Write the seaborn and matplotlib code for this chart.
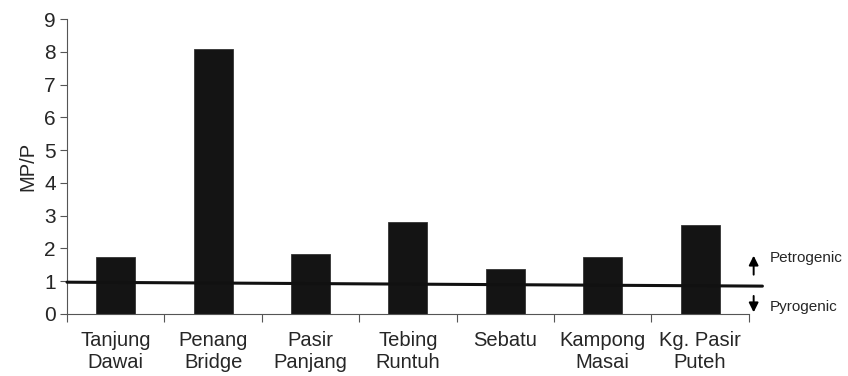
import matplotlib.pyplot as plt
import numpy as np
import pandas as pd
import seaborn as sns

sites = ["Tanjung\nDawai", "Penang\nBridge", "Pasir\nPanjang", "Tebing\nRuntuh",
         "Sebatu", "Kampong\nMasai", "Kg. Pasir\nPuteh"]
mp_p = [1.73, 8.1, 1.83, 2.8, 1.37, 1.73, 2.71]

# reference line (roughly at MP/P = 1, slightly tilted in the original)
ref_x = [-0.5, 6.64]
ref_y = [0.97, 0.85]
yticks = list(range(0, 10))

sns.set_style("ticks")
plt.rcParams["font.family"] = ["Liberation Sans", "DejaVu Sans"]

df = pd.DataFrame({"site": sites, "MP/P": mp_p})

fig = plt.figure(figsize=(8.48, 3.76), dpi=100)
ax = fig.add_axes([0.079, 0.165, 0.804, 0.784])

sns.barplot(data=df, x="site", y="MP/P", color="#141414", width=0.4,
            edgecolor="#333333", linewidth=0.6, saturation=1, ax=ax)

ax.plot(ref_x, ref_y, color="#111111", lw=2.2, clip_on=False, zorder=5)

ax.set_xlim(-0.5, len(sites) - 0.5)
ax.set_ylim(0, 9)
ax.set_yticks(yticks)
ax.set_xlabel("")
ax.set_ylabel("MP/P", fontsize=14.5, labelpad=5)

ax.tick_params(axis="y", labelsize=15, length=5, width=0.8, color="#555555", pad=3)
ax.tick_params(axis="x", which="major", labelsize=14.5, length=0, pad=12)
ax.set_xticks(np.arange(-0.5, len(sites)), minor=True)
ax.tick_params(axis="x", which="minor", length=6, width=0.8, color="#555555")
for lbl in ax.get_xticklabels():
    lbl.set_linespacing(1.2)

for side in ["top", "right"]:
    ax.spines[side].set_visible(False)
for side in ["left", "bottom"]:
    ax.spines[side].set_color("#555555")
    ax.spines[side].set_linewidth(0.8)

# petrogenic / pyrogenic arrows to the right of the plot
arrow_style = dict(arrowstyle="-|>", color="black", lw=1.4, mutation_scale=14,
                   shrinkA=0, shrinkB=0)
ax.annotate("", xy=(6.55, 1.78), xytext=(6.55, 1.2), annotation_clip=False,
            arrowprops=arrow_style)
ax.annotate("", xy=(6.55, 0.05), xytext=(6.55, 0.55), annotation_clip=False,
            arrowprops=arrow_style)
ax.text(6.72, 1.72, "Petrogenic", fontsize=11, va="center", ha="left", clip_on=False)
ax.text(6.72, 0.2, "Pyrogenic", fontsize=11, va="center", ha="left", clip_on=False)

plt.savefig("out.png", dpi=100)
